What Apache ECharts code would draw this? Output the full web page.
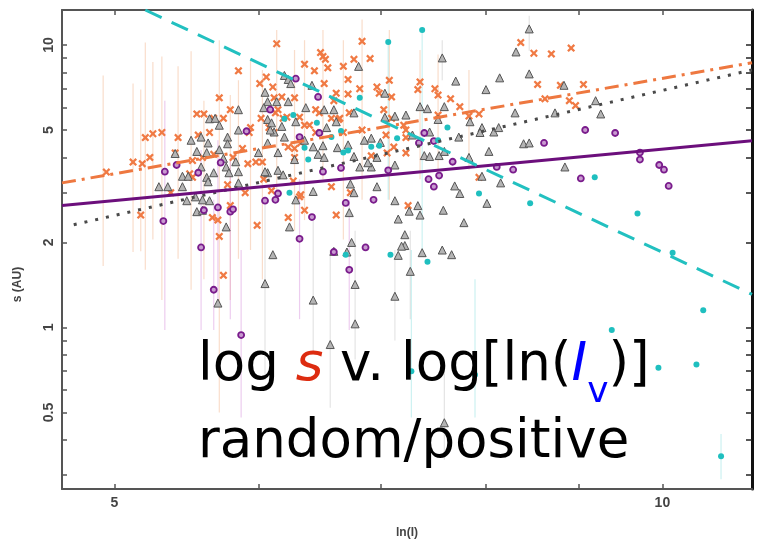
<!DOCTYPE html>
<html><head><meta charset="utf-8">
<script src="https://cdn.jsdelivr.net/npm/echarts@6/dist/echarts.min.js"></script>
<style>html,body{margin:0;padding:0;background:#fff}#c{width:761px;height:544px}</style>
</head><body><div id="c"></div>
<script>
// Axis ticks (data units)
const xLabelValues = [5, 10];
const xTickValues = [5, 6, 7, 8, 9, 10];
const yLabelValues = [0.5, 1, 2, 5, 10];
const yTickValues = [0.3, 0.4, 0.5, 0.6, 0.7, 0.8, 0.9, 1, 2, 3, 4, 5, 6, 7, 8, 9, 10];
const xRange = [4.68, 11.2];
const yRange = [0.268, 13.3];

// Points [ln(I), s]
const orangePoints = [[6.14,10.1],[5.85,8.1],[5.71,6.5],[5.55,5.7],[5.60,5.7],[5.79,5.9],[5.20,4.7],[5.25,4.85],[5.31,4.9],[5.42,4.7],[5.56,4.8],[5.64,4.9],[5.67,5.5],[5.12,3.85],[5.18,3.8],[5.23,4.0],[5.40,4.15],[5.52,3.9],[5.59,4.0],[5.67,4.1],[5.81,4.0],[5.88,4.3],[5.93,4.9],[5.94,5.1],[5.92,3.8],[5.98,3.85],[6.03,3.85],[5.17,2.5],[5.37,3.0],[5.52,3.4],[5.66,2.45],[5.70,2.4],[5.71,2.1],[5.79,2.7],[5.77,3.2],[5.90,3.0],[5.99,2.3],[6.06,7.7],[6.01,7.3],[6.11,7.1],[6.12,6.5],[6.18,6.55],[6.13,5.75],[6.22,5.55],[6.28,6.5],[6.36,8.55],[6.44,8.1],[6.49,9.4],[6.51,9.1],[6.53,8.9],[6.55,8.3],[6.52,7.3],[6.60,6.35],[6.68,8.4],[6.72,7.55],[6.77,8.9],[6.84,10.3],[6.91,8.95],[6.82,7.0],[6.72,6.7],[6.62,6.75],[6.36,5.2],[6.48,5.75],[6.45,4.9],[6.33,4.5],[6.28,4.0],[6.12,4.9],[6.23,4.35],[6.64,5.45],[6.73,5.75],[6.68,4.9],[6.84,5.0],[6.58,3.15],[6.74,3.0],[6.62,2.5],[6.36,2.6],[6.27,3.3],[6.23,2.45],[6.32,2.9],[6.10,3.05],[6.04,3.35],[8.36,10.2],[8.50,9.35],[8.69,9.3],[8.91,9.75],[8.54,7.25],[8.79,7.2],[9.05,7.25],[8.62,6.45],[8.89,6.35],[8.96,6.1],[7.08,7.5],[7.10,6.55],[7.34,6.95],[7.36,7.4],[7.50,7.0],[7.53,6.65],[7.65,6.45],[7.74,6.05],[7.53,5.65],[7.83,5.6],[7.93,5.7],[7.05,4.8],[7.12,4.35],[7.23,4.7],[7.23,4.15],[7.06,4.15],[7.93,3.4],[7.25,2.7],[7.03,5.9],[7.21,5.2],[6.33,2.95],[5.74,1.53],[5.50,3.5],[6.97,7.1],[6.99,6.75],[6.15,5.9],[6.45,5.9],[6.58,5.5],[6.65,5.5],[6.40,5.2],[6.19,5.5],[6.32,5.55],[6.02,5.5],[6.08,5.1],[7.10,5.5],[7.23,5.0],[6.28,4.3],[6.92,4.05],[5.74,5.5],[4.95,3.55]];

const grayPoints = [[5.85,5.9],[5.64,5.48],[5.68,5.5],[5.71,5.2],[5.51,4.6],[5.58,4.72],[5.63,4.5],[5.55,4.2],[5.40,4.13],[5.62,4.16],[5.77,4.72],[5.77,4.47],[5.74,3.97],[5.83,3.86],[5.45,3.43],[5.49,3.43],[5.58,3.7],[5.62,3.4],[5.67,3.53],[5.76,3.7],[5.78,3.53],[5.85,3.56],[5.35,3.15],[5.45,3.15],[5.54,2.9],[5.59,2.83],[5.64,2.81],[5.55,2.57],[5.59,2.6],[5.76,2.27],[6.05,6.8],[6.07,6.3],[6.14,6.3],[6.04,6.0],[6.20,7.8],[6.23,7.55],[6.42,7.2],[6.37,6.0],[6.52,5.9],[6.60,5.9],[6.77,5.75],[6.81,8.4],[6.07,5.45],[6.10,5.3],[6.12,4.92],[6.18,5.15],[6.20,4.72],[6.00,4.16],[6.07,4.5],[6.15,4.16],[6.28,3.93],[6.15,3.6],[6.19,3.47],[6.07,3.53],[6.43,4.36],[6.47,4.1],[6.52,4.0],[6.51,4.4],[6.63,4.33],[6.72,4.43],[6.77,4.03],[6.82,3.7],[6.86,4.6],[6.92,4.68],[6.92,3.7],[6.43,3.03],[6.29,2.83],[6.24,2.27],[6.73,2.55],[6.75,2.0],[6.71,1.85],[6.60,1.86],[6.11,1.81],[8.45,11.4],[8.31,9.45],[7.57,9.0],[8.45,7.9],[8.14,7.65],[7.70,7.45],[8.00,6.95],[8.83,7.2],[9.19,6.35],[9.25,5.7],[7.04,6.75],[7.04,5.55],[7.13,5.6],[7.23,5.65],[7.36,6.05],[7.43,5.95],[7.59,6.05],[7.53,5.45],[7.29,4.8],[7.45,4.92],[7.73,4.72],[7.84,5.35],[7.96,5.1],[7.94,4.9],[8.08,4.92],[8.13,5.1],[8.30,5.75],[8.73,5.75],[8.39,4.47],[8.45,4.5],[8.03,4.2],[7.40,4.06],[7.45,4.03],[7.54,4.06],[7.59,4.2],[7.83,4.0],[7.13,3.76],[8.84,3.7],[7.96,3.43],[7.69,3.17],[7.74,2.98],[8.15,3.25],[8.01,2.75],[7.13,2.81],[7.16,2.42],[7.26,2.58],[7.34,2.7],[7.36,2.5],[7.58,2.6],[7.78,2.35],[7.22,2.13],[7.22,1.95],[7.19,1.94],[7.16,1.8],[7.38,1.84],[7.57,1.88],[7.66,1.81],[7.27,1.58],[6.25,7.3],[6.23,6.3],[6.09,5.0],[6.29,5.35],[6.54,5.1],[6.62,5.35],[6.36,4.6],[7.00,4.52],[6.97,4.0],[6.89,3.83],[6.05,3.56],[5.29,3.15],[5.48,2.81],[5.63,3.28],[5.85,3.25],[6.77,3.0],[6.74,3.22],[6.97,3.15],[6.05,1.43],[6.78,1.42],[6.43,1.25],[7.13,1.29],[6.78,1.03],[5.70,1.22],[6.57,0.87],[7.59,0.46],[5.85,5.0],[5.71,4.26]];

const purplePoints = [[5.33,3.56],[5.41,3.76],[5.56,3.53],[5.72,3.83],[5.70,2.66],[5.79,2.57],[5.81,2.62],[5.32,2.38],[5.58,1.92],[6.05,2.81],[6.13,2.83],[6.29,7.6],[6.47,6.55],[6.48,4.88],[6.32,4.72],[6.51,3.56],[6.66,3.67],[6.70,2.76],[6.32,2.06],[6.42,2.46],[6.60,1.85],[6.87,1.92],[6.94,2.83],[6.73,1.6],[6.15,2.98],[9.07,5.0],[9.42,4.88],[8.61,4.5],[7.40,4.88],[7.49,4.57],[7.35,4.5],[7.67,3.86],[8.11,3.7],[8.28,3.62],[7.07,3.6],[7.44,3.35],[7.54,3.45],[7.49,3.15],[9.02,3.37],[9.72,4.16],[9.72,3.93],[9.96,3.76],[10.02,3.62],[10.08,3.17],[5.67,1.36],[5.87,0.94],[5.91,4.95],[6.09,5.9],[5.60,2.6]];

const cyanPoints = [[6.82,6.5],[6.27,5.65],[6.20,5.48],[6.46,5.3],[6.36,4.33],[6.58,4.72],[6.66,4.96],[6.68,4.16],[6.72,4.23],[6.39,3.93],[6.24,3.0],[6.92,4.36],[6.70,1.81],[7.38,11.3],[7.07,10.25],[7.62,5.1],[7.53,4.6],[7.15,4.68],[7.93,2.98],[8.46,2.75],[9.18,3.4],[9.69,2.53],[10.13,1.84],[7.09,1.81],[7.43,1.71],[7.28,0.7],[7.89,0.68],[9.38,0.98],[9.95,0.72],[10.44,0.74],[10.53,1.15],[10.77,0.35],[6.99,4.4]];

// Error bars [ln(I), low s, high s]
const orangeErr = [[4.93,1.65,7.8],[5.12,1.85,7.3],[5.17,1.86,6.95],[5.20,1.6,10.2],[5.25,2.05,8.7],[5.31,1.25,9.1],[5.42,1.75,8.4],[5.51,1.36,9.5],[5.60,1.48,6.35],[5.71,0.5,10.4],[5.79,1.25,6.65],[5.85,1.75,7.5],[5.94,1.88,8.85],[6.03,1.48,8.15],[6.14,2.83,11.3],[6.28,2.2,9.6],[6.36,2.4,10.4],[6.51,3.35,11.3],[6.68,2.05,10.4],[6.84,2.83,12.3],[7.08,2.83,11.3],[7.36,3.35,9.6],[7.53,3.62,9.25],[7.83,3.62,8.15]];
const purpleErr = [[5.33,0.98,6.35],[5.58,0.98,4.25],[5.67,0.98,2.83],[5.87,0.48,1.88],[5.70,1.25,4.6],[5.79,1.07,3.93],[6.32,1.07,3.35],[6.73,0.98,2.83]];
const grayErr = [[6.05,0.65,2.83],[6.43,0.82,2.4],[6.57,0.52,1.88],[6.78,0.77,2.2],[7.59,0.34,0.77],[7.27,1.07,2.2],[7.13,0.9,1.88],[8.45,9.55,12.7],[7.57,7.5,10.4]];
const cyanErr = [[7.38,1.88,11.3],[7.07,2.83,10.4],[7.28,0.48,1.88],[10.77,0.29,0.42],[7.89,0.48,1.48]];

// Fitted power-law lines (endpoints)
const orangeFit = [[4.68,3.25],[11.2,8.65]];
const grayFit = [[4.75,2.31],[11.2,8.16]];
const purpleFit = [[4.68,2.70],[11.2,4.58]];
const cyanFit = [[5.2,13.3],[11.2,1.31]];

const chart = echarts.init(document.getElementById('c'), null, {renderer:'canvas'});

function errSeries(data, color){
  return {
    type:'custom', xAxisIndex:0, yAxisIndex:0, z:1, silent:true,
    data: data,
    renderItem: function(params, api){
      const a = api.coord([api.value(0), api.value(1)]);
      const b = api.coord([api.value(0), api.value(2)]);
      return {type:'line', shape:{x1:a[0], y1:a[1], x2:b[0], y2:b[1]}, style:{stroke:color, lineWidth:1.2, opacity:0.45}};
    }
  };
}
const crossPath = 'path://M2,0 L5,3 L8,0 L10,2 L7,5 L10,8 L8,10 L5,7 L2,10 L0,8 L3,5 L0,2 Z';
const tickStyle = {color:'#555', width:1.5};
const labelFont = {color:'#444', fontSize:14, fontWeight:'bold', fontFamily:'Liberation Sans'};
const nameFont = {color:'#444', fontSize:12, fontWeight:'bold', fontFamily:'Liberation Sans'};

chart.setOption({
  animation:false,
  backgroundColor:'#fff',
  grid:{left:62, right:9, top:10, bottom:54, containLabel:false},
  xAxis:[
    {type:'log', logBase:10, min:xRange[0], max:xRange[1], position:'bottom',
     name:'ln(I)', nameLocation:'middle', nameGap:38, nameTextStyle:nameFont,
     axisLine:{show:true, lineStyle:{color:'#555', width:2}},
     axisTick:{show:true, inside:true, length:5, customValues:xTickValues, lineStyle:tickStyle},
     axisLabel:{customValues:xLabelValues, margin:7, ...labelFont},
     splitLine:{show:false}, minorTick:{show:false}},
    {type:'log', logBase:10, min:xRange[0], max:xRange[1], position:'top',
     axisLine:{show:true, lineStyle:{color:'#555', width:2}},
     axisTick:{show:true, inside:true, length:5, customValues:xTickValues, lineStyle:tickStyle},
     axisLabel:{show:false}, splitLine:{show:false}}
  ],
  yAxis:[
    {type:'log', logBase:10, min:yRange[0], max:yRange[1], position:'left',
     name:'s (AU)', nameLocation:'middle', nameGap:38, nameRotate:90,
     nameTextStyle:{...nameFont, padding:[0,70,0,0]},
     axisLine:{show:true, lineStyle:{color:'#555', width:2}},
     axisTick:{show:true, inside:true, length:5, customValues:yTickValues, lineStyle:tickStyle},
     axisLabel:{customValues:yLabelValues, rotate:90, margin:6, ...labelFont},
     splitLine:{show:false}},
    {type:'log', logBase:10, min:yRange[0], max:yRange[1], position:'right',
     axisLine:{show:true, lineStyle:{color:'#111', width:3}},
     axisTick:{show:true, inside:true, length:6, customValues:yTickValues, lineStyle:{color:'#222', width:1.5}},
     axisLabel:{show:false}, splitLine:{show:false}}
  ],
  series:[
    errSeries(orangeErr, '#f2b48c'),
    errSeries(purpleErr, '#d890dc'),
    errSeries(grayErr, '#c4c4c4'),
    errSeries(cyanErr, '#8fe0e0'),
    {type:'scatter', name:'orange', data:orangePoints, symbol:crossPath, symbolSize:8, z:3,
     itemStyle:{color:'#f07a44', opacity:1}},
    {type:'scatter', name:'gray', data:grayPoints, symbol:'triangle', symbolSize:8, z:3,
     itemStyle:{color:'#b4b4b4', borderColor:'#555', borderWidth:1, opacity:1}},
    {type:'scatter', name:'purple', data:purplePoints, symbol:'circle', symbolSize:6, z:3,
     itemStyle:{color:'#c89ad0', borderColor:'#7a1c8c', borderWidth:1.8, opacity:1}},
    {type:'scatter', name:'cyan', data:cyanPoints, symbol:'circle', symbolSize:6, z:3,
     itemStyle:{color:'#1fbfbf', opacity:1}},
    {type:'line', data:orangeFit, symbol:'none', z:5, lineStyle:{color:'#ee7840', width:3, type:[14,6,3,6]}},
    {type:'line', data:grayFit, symbol:'none', z:5, lineStyle:{color:'#4a4a4a', width:3, type:[3,8]}},
    {type:'line', data:purpleFit, symbol:'none', z:5, lineStyle:{color:'#6c0f7c', width:3}},
    {type:'line', data:cyanFit, symbol:'none', z:5, lineStyle:{color:'#22c0c0', width:3, type:[18,11]}}
  ],
  graphic:[
    {type:'text', x:198, y:366, z:100,
     style:{text:'log {s|s} v. log[ln({I|I}{v|v})]', fontSize:53, fontFamily:'DejaVu Sans', fill:'#000', verticalAlign:'middle',
       rich:{
         s:{fontSize:53, fontFamily:'DejaVu Sans', fontStyle:'italic', fill:'#dd2c10'},
         I:{fontSize:53, fontFamily:'DejaVu Sans', fontStyle:'italic', fill:'#0000ff'},
         v:{fontSize:36, fontFamily:'DejaVu Sans', fill:'#0000ff', padding:[54,0,0,0]}
       }}},
    {type:'text', x:198, y:443, z:100,
     style:{text:'random/positive', fontSize:53, fontFamily:'DejaVu Sans', fill:'#000', verticalAlign:'middle'}}
  ]
});
</script></body></html>
